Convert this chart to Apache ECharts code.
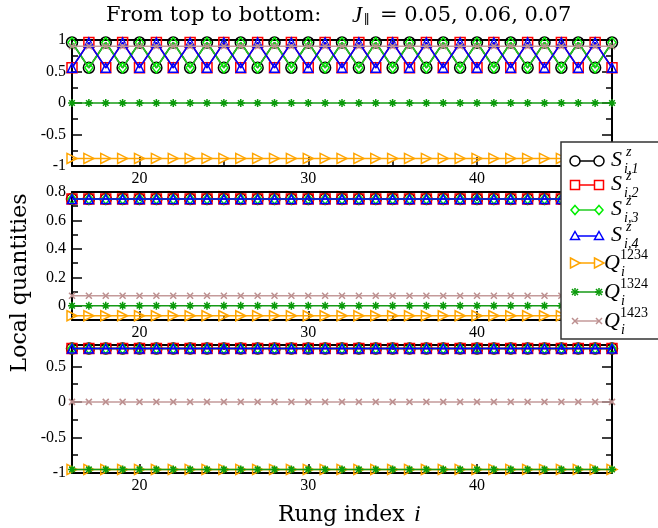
<!DOCTYPE html>
<html>
<head>
<meta charset="utf-8">
<script src="https://cdn.jsdelivr.net/npm/echarts@6/dist/echarts.min.js"></script>
<style>
  html, body { margin: 0; padding: 0; background: #fff; }
  #chart { width: 658px; height: 528px; }
</style>
</head>
<body>
<div id="chart"></div>
<script>
// Rung index along the ladder
const rungs = [16,17,18,19,20,21,22,23,24,25,26,
               27,28,29,30,31,32,33,34,35,36,37,
               38,39,40,41,42,43,44,45,46,47,48];

// ---- J_par = 0.05 (top panel) ----
const s1J05 = [0.96,0.56,0.96,0.56,0.96,0.56,0.96,0.56,0.96,0.56,0.96,
               0.56,0.96,0.56,0.96,0.56,0.96,0.56,0.96,0.56,0.96,0.56,
               0.96,0.56,0.96,0.56,0.96,0.56,0.96,0.56,0.96,0.56,0.96];
const s2J05 = [0.56,0.96,0.56,0.96,0.56,0.96,0.56,0.96,0.56,0.96,0.56,
               0.96,0.56,0.96,0.56,0.96,0.56,0.96,0.56,0.96,0.56,0.96,
               0.56,0.96,0.56,0.96,0.56,0.96,0.56,0.96,0.56,0.96,0.56];
const s3J05 = [0.96,0.56,0.96,0.56,0.96,0.56,0.96,0.56,0.96,0.56,0.96,
               0.56,0.96,0.56,0.96,0.56,0.96,0.56,0.96,0.56,0.96,0.56,
               0.96,0.56,0.96,0.56,0.96,0.56,0.96,0.56,0.96,0.56,0.96];
const s4J05 = [0.56,0.96,0.56,0.96,0.56,0.96,0.56,0.96,0.56,0.96,0.56,
               0.96,0.56,0.96,0.56,0.96,0.56,0.96,0.56,0.96,0.56,0.96,
               0.56,0.96,0.56,0.96,0.56,0.96,0.56,0.96,0.56,0.96,0.56];
const q1234J05 = [-0.88,-0.88,-0.88,-0.88,-0.88,-0.88,-0.88,-0.88,-0.88,-0.88,-0.88,
                  -0.88,-0.88,-0.88,-0.88,-0.88,-0.88,-0.88,-0.88,-0.88,-0.88,-0.88,
                  -0.88,-0.88,-0.88,-0.88,-0.88,-0.88,-0.88,-0.88,-0.88,-0.88,-0.88];
const q1324J05 = [0,0,0,0,0,0,0,0,0,0,0,
                  0,0,0,0,0,0,0,0,0,0,0,
                  0,0,0,0,0,0,0,0,0,0,0];
const q1423J05 = [0.9,0.9,0.9,0.9,0.9,0.9,0.9,0.9,0.9,0.9,0.9,
                  0.9,0.9,0.9,0.9,0.9,0.9,0.9,0.9,0.9,0.9,0.9,
                  0.9,0.9,0.9,0.9,0.9,0.9,0.9,0.9,0.9,0.9,0.9];

// ---- J_par = 0.06 (middle panel) ----
const s1J06 = [0.75,0.75,0.75,0.75,0.75,0.75,0.75,0.75,0.75,0.75,0.75,
               0.75,0.75,0.75,0.75,0.75,0.75,0.75,0.75,0.75,0.75,0.75,
               0.75,0.75,0.75,0.75,0.75,0.75,0.75,0.75,0.75,0.75,0.75];
const s2J06 = [0.75,0.75,0.75,0.75,0.75,0.75,0.75,0.75,0.75,0.75,0.75,
               0.75,0.75,0.75,0.75,0.75,0.75,0.75,0.75,0.75,0.75,0.75,
               0.75,0.75,0.75,0.75,0.75,0.75,0.75,0.75,0.75,0.75,0.75];
const s3J06 = [0.75,0.75,0.75,0.75,0.75,0.75,0.75,0.75,0.75,0.75,0.75,
               0.75,0.75,0.75,0.75,0.75,0.75,0.75,0.75,0.75,0.75,0.75,
               0.75,0.75,0.75,0.75,0.75,0.75,0.75,0.75,0.75,0.75,0.75];
const s4J06 = [0.75,0.75,0.75,0.75,0.75,0.75,0.75,0.75,0.75,0.75,0.75,
               0.75,0.75,0.75,0.75,0.75,0.75,0.75,0.75,0.75,0.75,0.75,
               0.75,0.75,0.75,0.75,0.75,0.75,0.75,0.75,0.75,0.75,0.75];
const q1234J06 = [-0.07,-0.07,-0.07,-0.07,-0.07,-0.07,-0.07,-0.07,-0.07,-0.07,-0.07,
                  -0.07,-0.07,-0.07,-0.07,-0.07,-0.07,-0.07,-0.07,-0.07,-0.07,-0.07,
                  -0.07,-0.07,-0.07,-0.07,-0.07,-0.07,-0.07,-0.07,-0.07,-0.07,-0.07];
const q1324J06 = [0,0,0,0,0,0,0,0,0,0,0,
                  0,0,0,0,0,0,0,0,0,0,0,
                  0,0,0,0,0,0,0,0,0,0,0];
const q1423J06 = [0.07,0.07,0.07,0.07,0.07,0.07,0.07,0.07,0.07,0.07,0.07,
                  0.07,0.07,0.07,0.07,0.07,0.07,0.07,0.07,0.07,0.07,0.07,
                  0.07,0.07,0.07,0.07,0.07,0.07,0.07,0.07,0.07,0.07,0.07];

// ---- J_par = 0.07 (bottom panel) ----
const s1J07 = [0.75,0.75,0.75,0.75,0.75,0.75,0.75,0.75,0.75,0.75,0.75,
               0.75,0.75,0.75,0.75,0.75,0.75,0.75,0.75,0.75,0.75,0.75,
               0.75,0.75,0.75,0.75,0.75,0.75,0.75,0.75,0.75,0.75,0.75];
const s2J07 = [0.75,0.75,0.75,0.75,0.75,0.75,0.75,0.75,0.75,0.75,0.75,
               0.75,0.75,0.75,0.75,0.75,0.75,0.75,0.75,0.75,0.75,0.75,
               0.75,0.75,0.75,0.75,0.75,0.75,0.75,0.75,0.75,0.75,0.75];
const s3J07 = [0.75,0.75,0.75,0.75,0.75,0.75,0.75,0.75,0.75,0.75,0.75,
               0.75,0.75,0.75,0.75,0.75,0.75,0.75,0.75,0.75,0.75,0.75,
               0.75,0.75,0.75,0.75,0.75,0.75,0.75,0.75,0.75,0.75,0.75];
const s4J07 = [0.75,0.75,0.75,0.75,0.75,0.75,0.75,0.75,0.75,0.75,0.75,
               0.75,0.75,0.75,0.75,0.75,0.75,0.75,0.75,0.75,0.75,0.75,
               0.75,0.75,0.75,0.75,0.75,0.75,0.75,0.75,0.75,0.75,0.75];
const q1234J07 = [-0.95,-0.95,-0.95,-0.95,-0.95,-0.95,-0.95,-0.95,-0.95,-0.95,-0.95,
                  -0.95,-0.95,-0.95,-0.95,-0.95,-0.95,-0.95,-0.95,-0.95,-0.95,-0.95,
                  -0.95,-0.95,-0.95,-0.95,-0.95,-0.95,-0.95,-0.95,-0.95,-0.95,-0.95];
const q1324J07 = [-0.95,-0.95,-0.95,-0.95,-0.95,-0.95,-0.95,-0.95,-0.95,-0.95,-0.95,
                  -0.95,-0.95,-0.95,-0.95,-0.95,-0.95,-0.95,-0.95,-0.95,-0.95,-0.95,
                  -0.95,-0.95,-0.95,-0.95,-0.95,-0.95,-0.95,-0.95,-0.95,-0.95,-0.95];
const q1423J07 = [0,0,0,0,0,0,0,0,0,0,0,
                  0,0,0,0,0,0,0,0,0,0,0,
                  0,0,0,0,0,0,0,0,0,0,0];

// Tick positions
const xMajorTicks = [20, 30, 40];
const xMinorTicks = [25, 35, 45];
const yTicksTop = { min: -1, max: 1, major: [-1, -0.5, 0, 0.5, 1], minor: [-0.75, -0.25, 0.25, 0.75] };
const yTicksMid = { min: -0.1, max: 0.8, major: [0, 0.2, 0.4, 0.6, 0.8], minor: [0.1, 0.3, 0.5, 0.7] };
const yTicksBot = { min: -1, max: 0.8, major: [-1, -0.5, 0, 0.5], minor: [-0.75, -0.25, 0.25, 0.75] };

const SERIF = '"Liberation Serif", "Times New Roman", serif';
const WIDE = '"DejaVu Serif", serif';

const grids = [
  { left: 72, top: 40, width: 540, height: 126 },
  { left: 72, top: 192, width: 540, height: 128 },
  { left: 72, top: 345, width: 540, height: 128 }
];

const hiddenLine = { show: false, onZero: false };
const frameLine = { show: true, onZero: false, lineStyle: { color: '#000', width: 2 } };
const tickStyle = (vals, len) => ({ show: true, inside: true, length: len, customValues: vals,
                                    lineStyle: { color: '#000', width: 1.5 } });

function xAxesFor(g) {
  const base = { gridIndex: g, type: 'value', min: 16, max: 48, splitLine: { show: false } };
  return [
    Object.assign({}, base, { position: 'bottom', axisLine: frameLine, axisTick: tickStyle(xMajorTicks, 9),
      axisLabel: { show: true, customValues: xMajorTicks, margin: 5, color: '#000',
                   fontFamily: SERIF, fontSize: 16 } }),
    Object.assign({}, base, { position: 'bottom', axisLine: hiddenLine, axisTick: tickStyle(xMinorTicks, 5),
      axisLabel: { show: false } }),
    Object.assign({}, base, { position: 'top', axisLine: frameLine, axisTick: tickStyle(xMajorTicks, 9),
      axisLabel: { show: false } }),
    Object.assign({}, base, { position: 'top', axisLine: hiddenLine, axisTick: tickStyle(xMinorTicks, 5),
      axisLabel: { show: false } })
  ];
}

function yAxesFor(g, t) {
  const base = { gridIndex: g, type: 'value', min: t.min, max: t.max, splitLine: { show: false } };
  return [
    Object.assign({}, base, { position: 'left', axisLine: frameLine, axisTick: tickStyle(t.major, 10),
      axisLabel: { show: true, customValues: t.major, margin: 6, color: '#000',
                   fontFamily: SERIF, fontSize: 16, showMinLabel: true, showMaxLabel: true } }),
    Object.assign({}, base, { position: 'left', axisLine: hiddenLine, axisTick: tickStyle(t.minor, 6),
      axisLabel: { show: false } }),
    Object.assign({}, base, { position: 'right', axisLine: frameLine, axisTick: tickStyle(t.major, 10),
      axisLabel: { show: false } }),
    Object.assign({}, base, { position: 'right', axisLine: hiddenLine, axisTick: tickStyle(t.minor, 6),
      axisLabel: { show: false } })
  ];
}

// Marker and line styles for the seven quantities
const TRI_RIGHT = 'path://M0,0 L10,5 L0,10 Z';
const ASTERISK = 'path://M5,0 L5,10 M0,5 L10,5 M1.5,1.5 L8.5,8.5 M1.5,8.5 L8.5,1.5';
const CROSS = 'path://M0,0 L10,10 M0,10 L10,0';
const styles = [
  { color: '#000000', line: '#000000', symbol: 'circle', size: 11 },
  { color: '#ff0000', line: '#ff0000', symbol: 'rect', size: 10 },
  { color: '#00ee00', line: '#22cc22', symbol: 'diamond', size: [8, 10] },
  { color: '#0000ff', line: '#0000ff', symbol: 'triangle', size: 9 },
  { color: '#ffa500', line: '#ffa500', symbol: TRI_RIGHT, size: 10 },
  { color: '#0a9a0a', line: '#169a16', symbol: ASTERISK, size: 8 },
  { color: '#bc8f8f', line: '#c49a9a', symbol: CROSS, size: 6 }
];

const panelData = [
  [s1J05, s2J05, s3J05, s4J05, q1234J05, q1324J05, q1423J05],
  [s1J06, s2J06, s3J06, s4J06, q1234J06, q1324J06, q1423J06],
  [s1J07, s2J07, s3J07, s4J07, q1234J07, q1324J07, q1423J07]
];

const series = [];
panelData.forEach((list, g) => {
  list.forEach((vals, k) => {
    const st = styles[k];
    series.push({
      type: 'line',
      xAxisIndex: g * 4,
      yAxisIndex: g * 4,
      data: rungs.map((x, i) => [x, vals[i]]),
      symbol: st.symbol,
      symbolSize: st.size,
      showAllSymbol: true,
      clip: false,
      silent: true,
      z: 2 + k * 0.01,
      itemStyle: { color: 'rgba(0,0,0,0)', borderColor: st.color, borderWidth: 1.5 },
      lineStyle: { color: st.line, width: 1.5 },
      emphasis: { disabled: true }
    });
  });
});

// Legend drawn as graphic elements: line with a marker at each end, math-style labels
function legendMarker(kind, cx, cy, color) {
  const s = { fill: '#fff', stroke: color, lineWidth: 1.5 };
  switch (kind) {
    case 0: return { type: 'circle', shape: { cx, cy, r: 5 }, style: s };
    case 1: return { type: 'rect', shape: { x: cx - 4.5, y: cy - 4.5, width: 9, height: 9 }, style: s };
    case 2: return { type: 'polygon', shape: { points: [[cx, cy - 4.5], [cx + 4, cy], [cx, cy + 4.5], [cx - 4, cy]] }, style: s };
    case 3: return { type: 'polygon', shape: { points: [[cx, cy - 4.5], [cx + 4.5, cy + 3.5], [cx - 4.5, cy + 3.5]] }, style: s };
    case 4: return { type: 'polygon', shape: { points: [[cx - 4.5, cy - 5], [cx + 5, cy], [cx - 4.5, cy + 5]] }, style: s };
    case 5: return { type: 'group', children: [
      { type: 'line', shape: { x1: cx, y1: cy - 4, x2: cx, y2: cy + 4 }, style: s },
      { type: 'line', shape: { x1: cx - 4, y1: cy, x2: cx + 4, y2: cy }, style: s },
      { type: 'line', shape: { x1: cx - 3, y1: cy - 3, x2: cx + 3, y2: cy + 3 }, style: s },
      { type: 'line', shape: { x1: cx - 3, y1: cy + 3, x2: cx + 3, y2: cy - 3 }, style: s } ] };
    default: return { type: 'group', children: [
      { type: 'line', shape: { x1: cx - 3, y1: cy - 3, x2: cx + 3, y2: cy + 3 }, style: s },
      { type: 'line', shape: { x1: cx - 3, y1: cy + 3, x2: cx + 3, y2: cy - 3 }, style: s } ] };
  }
}

function txt(text, x, y, font, align) {
  return { type: 'text', x, y, z: 101,
    style: { text, font, fill: '#000', align: align || 'left', verticalAlign: 'middle',
             textAlign: align || 'left', textVerticalAlign: 'middle' } };
}

const legendRows = [
  { y: 161, main: 'S', sup: 'z', sub: 'i,1' },
  { y: 185, main: 'S', sup: 'z', sub: 'i,2' },
  { y: 210, main: 'S', sup: 'z', sub: 'i,3' },
  { y: 236, main: 'S', sup: 'z', sub: 'i,4' },
  { y: 263, main: 'Q', sup: '1234', sub: 'i' },
  { y: 292, main: 'Q', sup: '1324', sub: 'i' },
  { y: 321, main: 'Q', sup: '1423', sub: 'i' }
];

const legendEls = [
  { type: 'rect', z: 100, shape: { x: 561, y: 142, width: 120, height: 197 },
    style: { fill: '#fff', stroke: '#333', lineWidth: 1.5 } }
];
legendRows.forEach((r, k) => {
  const st = styles[k];
  legendEls.push({ type: 'line', z: 101, shape: { x1: 575, y1: r.y, x2: 599, y2: r.y },
                   style: { stroke: st.line, lineWidth: 1.5 } });
  [575, 599].forEach(cx => {
    const m = legendMarker(k, cx, r.y, st.color);
    m.z = 102;
    if (m.children) m.children.forEach(c => { c.z = 102; });
    legendEls.push(m);
  });
  if (r.main === 'S') {
    legendEls.push(txt('S', 611, r.y - 1, 'italic 22px ' + SERIF));
    legendEls.push(txt(r.sup, 626, r.y - 9, 'italic 14px ' + SERIF));
    legendEls.push(txt(r.sub, 624, r.y + 8, 'italic 14px ' + SERIF));
  } else {
    legendEls.push(txt('Q', 604, r.y, 'italic 22px ' + SERIF));
    legendEls.push(txt(r.sup, 620, r.y - 8, '14px ' + SERIF));
    legendEls.push(txt(r.sub, 621, r.y + 9, 'italic 14px ' + SERIF));
  }
});

const titleEls = [
  txt('From top to bottom:', 106, 16, '21px ' + WIDE),
  txt('J', 352, 16, 'italic 23px ' + SERIF),
  txt('\u2225', 364, 21, '13px ' + WIDE),
  txt('= 0.05, 0.06, 0.07', 380, 16, '21px ' + WIDE),
  { type: 'text', x: 20, y: 283, rotation: Math.PI / 2, z: 101,
    style: { text: 'Local quantities', font: '22px ' + WIDE, fill: '#000',
             align: 'center', verticalAlign: 'middle', textAlign: 'center', textVerticalAlign: 'middle' } },
  txt('Rung index ', 278, 515, '22px ' + WIDE),
  txt('i', 414, 515, 'italic 24px ' + SERIF)
];

const chart = echarts.init(document.getElementById('chart'), null, { renderer: 'canvas' });
chart.setOption({
  animation: false,
  backgroundColor: '#fff',
  grid: grids,
  xAxis: [].concat(xAxesFor(0), xAxesFor(1), xAxesFor(2)),
  yAxis: [].concat(yAxesFor(0, yTicksTop), yAxesFor(1, yTicksMid), yAxesFor(2, yTicksBot)),
  series: series,
  graphic: { elements: titleEls.concat(legendEls) }
});
</script>
</body>
</html>
